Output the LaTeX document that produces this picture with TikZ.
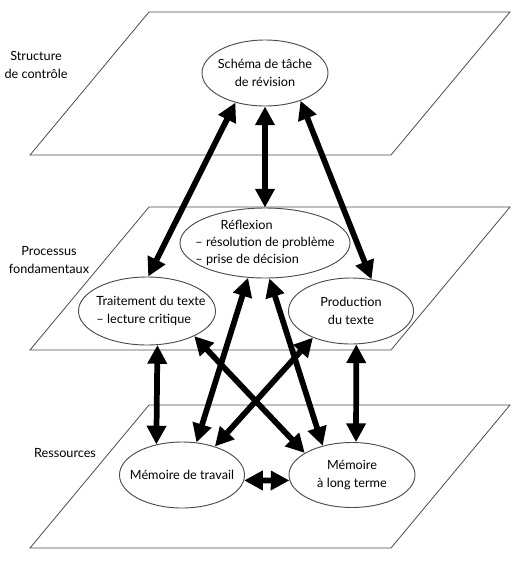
\documentclass[tikz,border=0pt]{standalone}
\usepackage{fontspec}
\setmainfont{Lato}
\usetikzlibrary{shapes.geometric, arrows.meta, positioning}

\begin{document}
\begin{tikzpicture}[x=0.75pt, y=-0.75pt, font=\fontsize{9.5}{13}\selectfont,
  plane/.style={draw=black!70, line width=0.6pt},
  bubble/.style={ellipse, draw=black!70, line width=0.7pt, inner sep=0pt},
  txt/.style={align=center, inner sep=0pt},
  side/.style={align=center, inner sep=0pt},
  link/.style={line width=4.3pt, {Triangle[length=14pt,width=14pt]}-{Triangle[length=14pt,width=14pt]}}]
\useasboundingbox (0,0) rectangle (519,578);
\foreach \dy in {0,195,393}
  \draw [plane] (149,12+\dy) -- (510,12+\dy) -- (391,155+\dy) -- (30,155+\dy) -- cycle;
\node [side] (lctrl) at (36,65) {Structure\\de contrôle};
\node [side] (lproc) at (49,260) {Processus\\fondamentaux};
\node [side] (lres) at (65,453) {Ressources};
\node [bubble, minimum width=94.5pt, minimum height=49.5pt, label={[txt]center:Schéma de tâche\\de révision}] (schema) at (265,73) {};
\node [bubble, minimum width=127.5pt, minimum height=52.5pt, label={[txt, align=left]center:\hspace*{19pt}Réflexion\\– résolution de problème\\– prise de décision}] (refl) at (265,243) {};
\node [bubble, minimum width=102.75pt, minimum height=51pt, label={[txt, align=left, xshift=3pt]center:Traitement du texte\\– lecture critique}] (trait) at (147,311) {};
\node [bubble, minimum width=93.75pt, minimum height=49.5pt, label={[txt]center:Production\\du texte}] (prod) at (351,311) {};
\node [bubble, minimum width=93.75pt, minimum height=49.5pt, label={[txt]center:Mémoire de travail}] (work) at (182,475) {};
\node [bubble, minimum width=94.5pt, minimum height=48.75pt, label={[txt]center:Mémoire\\à long terme}] (long) at (352,475) {};
\draw [link] (schema.225) -- (trait.88);
\draw [link] (schema.south) -- (refl.north);
\draw [link] (schema.-38) -- (prod.57);
\draw [link] (trait.-73) -- (work.130);
\draw [link] (prod.-81) -- (long.83);
\draw [link] (refl.244) -- (work.66);
\draw [link] (refl.-83) -- (long.135);
\draw [link] (trait.-28) -- (long.155);
\draw [link] (prod.215) -- (work.41);
\draw [link] (work.-5) -- (long.185);
\end{tikzpicture}
\end{document}
